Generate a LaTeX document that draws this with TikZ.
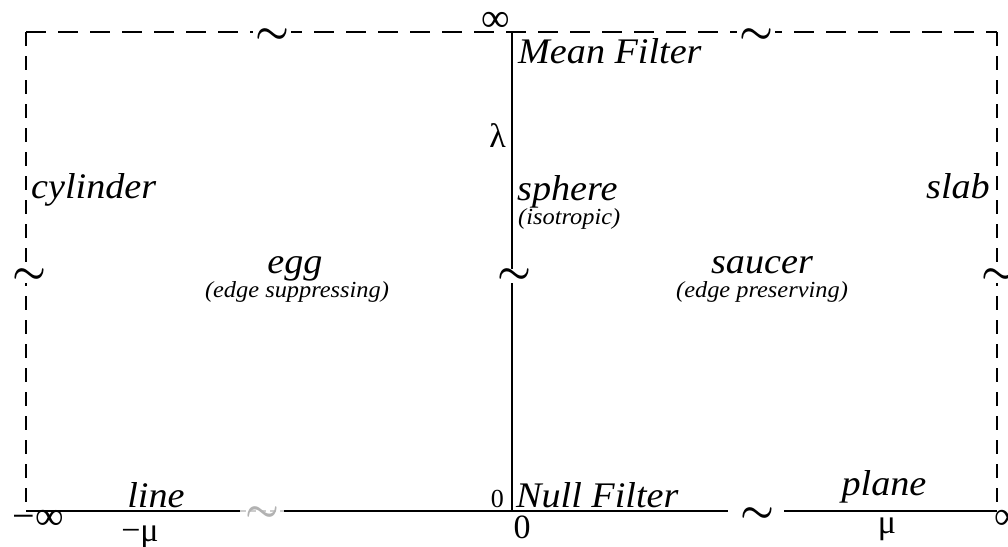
\documentclass[tikz,border=0pt]{standalone}
\usepackage{fontspec}
\usepackage{graphicx}
\setmainfont{Liberation Serif}
\newfontfamily\itfam{Liberation Serif}[FakeStretch=1.06]
\newcommand\lblfont{\itfam\itshape\fontsize{36}{36}\selectfont}
\newcommand\subfont{\itfam\itshape\fontsize{23}{23}\selectfont}
\newcommand\symfont{\fontsize{34}{34}\selectfont}
\newcommand\inffont{\fontsize{40}{40}\selectfont}
\newcommand\brksym{\scalebox{3.8}{\boldmath$\sim$}}
\tikzset{
  lbl/.style={font=\lblfont, inner sep=0pt},
  sublbl/.style={font=\subfont, inner sep=0pt},
  sym/.style={font=\symfont, inner sep=0pt},
  inf/.style={font=\inffont, inner sep=0pt},
  brk/.style={fill=white, inner sep=2pt},
  frame/.style={line width=1.8pt, dash pattern=on 20pt off 12pt},
  vframe/.style={line width=1.8pt, dash pattern=on 14pt off 10pt},
  axis/.style={line width=1.8pt}
}
\begin{document}
\begin{tikzpicture}[x=1pt,y=-1pt]
\useasboundingbox (0,0) rectangle (1008,546);
% corners and axis points
\coordinate (tl) at (26,32);
\coordinate (tr) at (997,32);
\coordinate (bl) at (26,511);
\coordinate (br) at (997,511);
\coordinate (ct) at (512,32);
\coordinate (cb) at (512,511);
\coordinate (b1) at (240,511);
\coordinate (b2) at (284,511);
\coordinate (b3) at (728,511);
\coordinate (b4) at (784,511);
% frame
\draw[frame] (tl) -- (tr);
\draw[vframe] (tl) -- (bl);
\draw[vframe] (tr) -- (br);
% axes
\draw[axis] (ct) -- (cb);
\draw[axis] (bl) -- (b1);
\draw[line width=1.2pt, black!20, dash pattern=on 6pt off 4pt] (b1) -- (b2);
\draw[axis] (b2) -- (b3);
\draw[axis] (b4) -- (br);
% breaks
\node[brk] (t1) at (272,36) {\brksym};
\node[brk] (t2) at (756,36) {\brksym};
\node[brk, inner sep=0pt] (lm) at (29,276) {\brksym};
\node[brk, inner sep=0pt] (rm) at (998,276) {\brksym};
\node[brk, inner sep=0pt] (cm) at (514,276) {\brksym};
\node[inner sep=0pt, text=black!30] (bg) at (262,514) {\brksym};
\node[inner sep=0pt] (bk) at (757,515) {\brksym};
% infinity labels
\node[inf] (topinf) at (496,22) {∞};
\node[inf, anchor=east] (minf) at (64,520) {−∞};
\node[inf, anchor=west] (pinf) at (994,520) {∞};
% lambda and mu
\node[sym, anchor=base east] (lam) at (506,147) {λ};
\node[sym] (mmu) at (140,537) {−μ};
\node[sym] (pmu) at (887,529) {μ};
\node[sym] (zb) at (522,527) {0};
\node[font=\fontsize{26}{26}\selectfont, inner sep=0pt, anchor=base east] (zl) at (504,507) {0};
% labels
\node[lbl, anchor=base west] (mean) at (518,63) {Mean Filter};
\node[lbl, anchor=base west] (sph) at (517,200) {sphere};
\node[sublbl, anchor=base west] (iso) at (518,224) {(isotropic)};
\node[lbl, anchor=base west] (cyl) at (31,198) {cylinder};
\node[lbl, anchor=base east] (slab) at (990,198) {slab};
\node[lbl, anchor=base] (egg) at (295,273) {egg};
\node[sublbl, anchor=base] (egs) at (297,297) {(edge suppressing)};
\node[lbl, anchor=base] (sau) at (762,273) {saucer};
\node[sublbl, anchor=base] (sap) at (762,297) {(edge preserving)};
\node[lbl, anchor=base] (lin) at (156,507) {line};
\node[lbl, anchor=base] (pla) at (884,495) {plane};
\node[lbl, anchor=base west] (nul) at (516,507) {Null Filter};
\end{tikzpicture}
\end{document}
